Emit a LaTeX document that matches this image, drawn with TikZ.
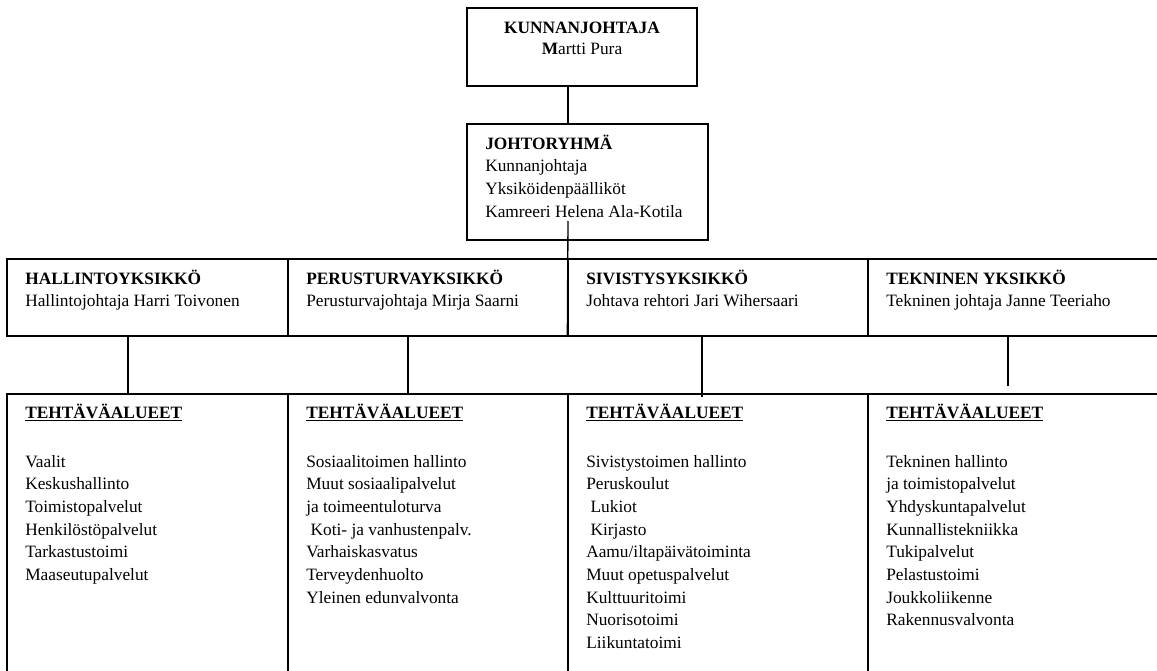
\documentclass[tikz,border=0pt]{standalone}
\usepackage{fontspec}
\setmainfont{Liberation Serif}
\usetikzlibrary{fit}
\begin{document}
\begin{tikzpicture}[x=0.75pt,y=-0.75pt,
  box/.style={draw,line width=1pt,inner sep=0pt},
  conn/.style={line width=1pt},
  txt/.style={inner sep=0pt,anchor=base west,font=\fontsize{13}{17}\selectfont},
  ctxt/.style={inner sep=0pt,anchor=base,font=\fontsize{13}{16}\selectfont}]
\clip (0,0) rectangle (1157,671);
% boxes
\node[box,fit={(467,8) (697,86)}] (kj) {};
\node[box,fit={(467,124) (708,240)}] (jr) {};
\node[box,fit={(7,259) (288,336)}] (u1) {};
\node[box,fit={(288,259) (568,336)}] (u2) {};
\node[box,fit={(568,259) (868,336)}] (u3) {};
\node[box,fit={(868,259) (1170,336)}] (u4) {};
\node[box,fit={(7,394) (288,690)}] (t1) {};
\node[box,fit={(288,394) (568,690)}] (t2) {};
\node[box,fit={(568,394) (868,690)}] (t3) {};
\node[box,fit={(868,394) (1170,690)}] (t4) {};
% texts
\node[ctxt] (kjt) at (582,33) {\parbox[t]{200pt}{\centering\textbf{KUNNANJOHTAJA}\\\textbf{M}artti Pura}};
\node[txt] (jrt) at (485,149) {\parbox[t]{200pt}{\textbf{JOHTORYHMÄ}\\Kunnanjohtaja\\Yksiköidenpäälliköt\\Kamreeri Helena Ala-Kotila}};
\node[txt] (u1t) at (25,284) {\parbox[t]{220pt}{\textbf{HALLINTOYKSIKKÖ}\\Hallintojohtaja Harri Toivonen}};
\node[txt] (u2t) at (306,284) {\parbox[t]{220pt}{\textbf{PERUSTURVAYKSIKKÖ}\\Perusturvajohtaja Mirja Saarni}};
\node[txt] (u3t) at (586,284) {\parbox[t]{220pt}{\textbf{SIVISTYSYKSIKKÖ}\\Johtava rehtori Jari Wihersaari}};
\node[txt] (u4t) at (886,284) {\parbox[t]{220pt}{\textbf{TEKNINEN YKSIKKÖ}\\Tekninen johtaja Janne Teeriaho}};
\node[txt] (h1) at (25,418) {\underline{\textbf{TEHTÄVÄALUEET}}};
\node[txt] (h2) at (306,418) {\underline{\textbf{TEHTÄVÄALUEET}}};
\node[txt] (h3) at (586,418) {\underline{\textbf{TEHTÄVÄALUEET}}};
\node[txt] (h4) at (886,418) {\underline{\textbf{TEHTÄVÄALUEET}}};
\node[txt] (l1) at (25,467) {\parbox[t]{200pt}{Vaalit\\Keskushallinto\\Toimistopalvelut\\Henkilöstöpalvelut\\Tarkastustoimi\\Maaseutupalvelut}};
\node[txt] (l2) at (306,467) {\parbox[t]{200pt}{Sosiaalitoimen hallinto\\Muut sosiaalipalvelut\\ja toimeentuloturva\\\hspace*{0.25em}Koti- ja vanhustenpalv.\\Varhaiskasvatus\\Terveydenhuolto\\Yleinen edunvalvonta}};
\node[txt] (l3) at (586,467) {\parbox[t]{200pt}{Sivistystoimen hallinto\\Peruskoulut\\\hspace*{0.25em}Lukiot\\\hspace*{0.25em}Kirjasto\\Aamu/iltapäivätoiminta\\Muut opetuspalvelut\\Kulttuuritoimi\\Nuorisotoimi\\Liikuntatoimi}};
\node[txt] (l4) at (886,467) {\parbox[t]{200pt}{Tekninen hallinto\\ja toimistopalvelut\\Yhdyskuntapalvelut\\Kunnallistekniikka\\Tukipalvelut\\Pelastustoimi\\Joukkoliikenne\\Rakennusvalvonta}};
% connectors
\coordinate (xa) at (568,0);
\coordinate (jrstem) at (568,221);
\coordinate (x1) at (128,0);
\coordinate (x2) at (408,0);
\coordinate (e3) at (702,397);
\coordinate (e4) at (1008,386);
\draw[conn] (kj.south -| xa) -- (jr.north -| xa);
\draw[conn] (jrstem) -- (u3.south west);
\draw[conn] (u1.south -| x1) -- (t1.north -| x1);
\draw[conn] (u2.south -| x2) -- (t2.north -| x2);
\draw[conn] (u3.south -| e3) -- (e3);
\draw[conn] (u4.south -| e4) -- (e4);
\end{tikzpicture}
\end{document}
